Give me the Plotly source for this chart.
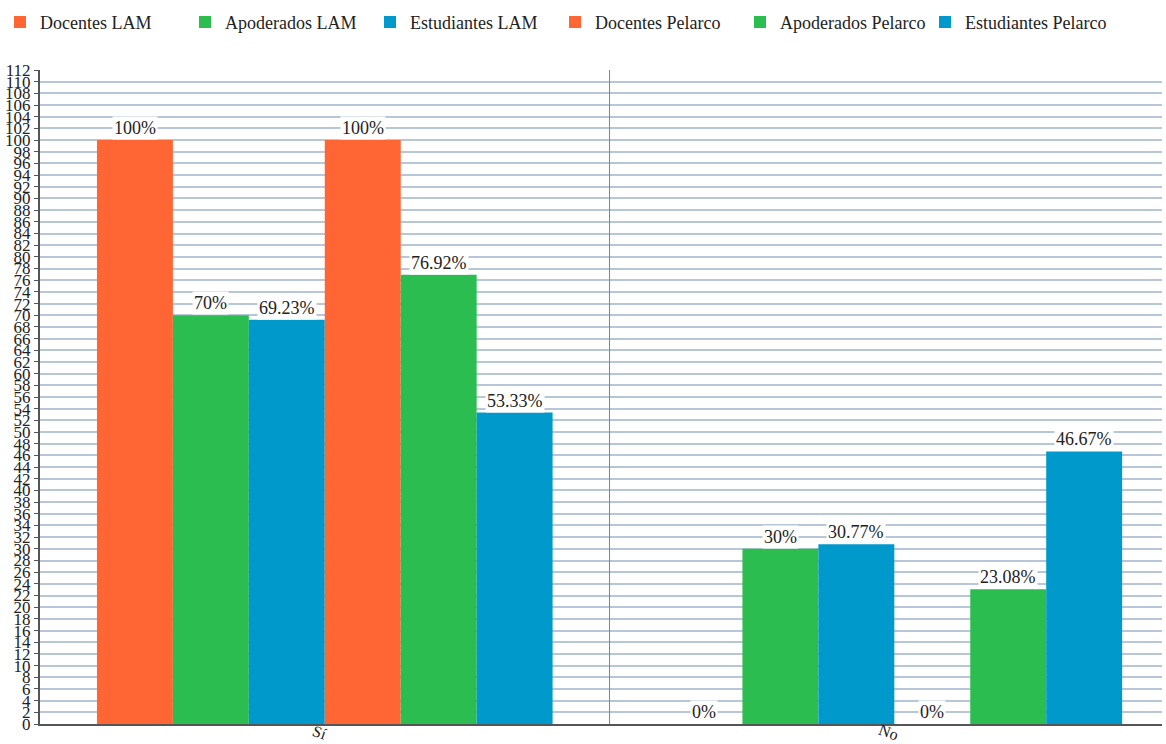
import plotly.graph_objects as go

categories = ["Sí", "No"]
series_names = ["Docentes LAM", "Apoderados LAM", "Estudiantes LAM",
                "Docentes Pelarco", "Apoderados Pelarco", "Estudiantes Pelarco"]
docentes_lam = [100, 0]
apoderados_lam = [70, 30]
estudiantes_lam = [69.23, 30.77]
docentes_pelarco = [100, 0]
apoderados_pelarco = [76.92, 23.08]
estudiantes_pelarco = [53.33, 46.67]
series_values = [docentes_lam, apoderados_lam, estudiantes_lam,
                 docentes_pelarco, apoderados_pelarco, estudiantes_pelarco]
colors = ["#FF6633", "#2BBD50", "#0099CC", "#FF6633", "#2BBD50", "#0099CC"]
y_ticks = list(range(0, 113, 2))

FONT = "Times New Roman"
BARGAP = 0.2

fig = go.Figure()
for name, vals, col in zip(series_names, series_values, colors):
    fig.add_trace(go.Bar(
        name=name, x=categories, y=vals,
        marker=dict(color=col, line=dict(width=0)),
    ))

# value labels on white boxes above each bar
n = len(series_names)
w = (1 - BARGAP) / n
for j, vals in enumerate(series_values):
    for i, v in enumerate(vals):
        fig.add_annotation(
            x=i + (j - (n - 1) / 2) * w, y=v, xref="x", yref="y",
            text=f"{v:g}%", showarrow=False, yanchor="bottom", yshift=0,
            bgcolor="white", borderpad=1,
            font=dict(family=FONT, size=18, color="#222"),
        )

# tilted category labels just under the axis
for i, cat in enumerate(categories):
    fig.add_annotation(
        x=i, y=0, xref="x", yref="y", text=cat, showarrow=False,
        textangle=20, yanchor="middle", xanchor="center", yshift=-8, xshift=-5,
        font=dict(family=FONT, size=16, color="#222"),
    )

# separator between category groups
fig.add_shape(type="line", xref="x", yref="paper", x0=0.5, x1=0.5, y0=0, y1=1,
              line=dict(color="#7086a6", width=1))

fig.update_layout(
    width=1166, height=744,
    margin=dict(l=40, r=4, t=70, b=20, autoexpand=False),
    paper_bgcolor="white", plot_bgcolor="white",
    barmode="group", bargap=BARGAP, bargroupgap=0,
    font=dict(family=FONT, size=16, color="#222"),
    legend=dict(orientation="h", xref="container", x=0.0, xanchor="left",
                yref="container", y=0.970, yanchor="middle",
                font=dict(family=FONT, size=18, color="#222"),
                itemwidth=30, entrywidth=140, tracegroupgap=0),
    xaxis=dict(range=[-0.5, 1.47], showticklabels=False, showgrid=False,
               showline=True, linecolor="#555", linewidth=2, automargin=False),
    yaxis=dict(range=[0, 112], tickvals=y_ticks, ticktext=[str(t) for t in y_ticks],
               showgrid=True, gridcolor="#b7c7d9", gridwidth=1.5,
               showline=True, linecolor="#555", linewidth=2, automargin=False,
               ticks="outside", ticklen=4, tickcolor="#555",
               tickfont=dict(family=FONT, size=17), zeroline=False),
)

fig.write_html("out.html")
